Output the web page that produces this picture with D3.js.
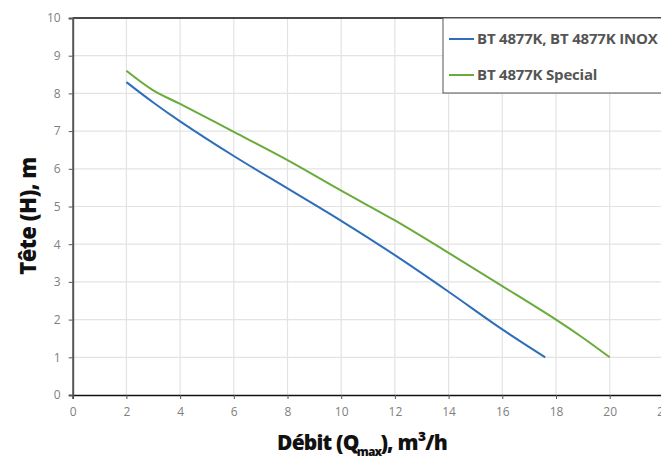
<!DOCTYPE html>
<html><head><meta charset="utf-8">
<script src="https://cdn.jsdelivr.net/npm/d3@7"></script>
<style>body{margin:0;background:#fff}svg{display:block}</style>
</head><body>
<svg id="c" width="661" height="464"></svg>
<script>
const xTicks = [0,2,4,6,8,10,12,14,16,18,20,22];
const yTicks = [0,1,2,3,4,5,6,7,8,9,10];
const seriesNames = ["BT 4877K, BT 4877K INOX", "BT 4877K Special"];
const seriesColors = ["#2f6eba", "#6aab3c"];
const blueQ = [2, 3, 4, 6, 8, 10, 12, 14, 16, 17.6];
const blueH = [8.3, 7.76, 7.26, 6.34, 5.48, 4.62, 3.71, 2.74, 1.74, 1.0];
const greenQ = [2, 3, 4, 6, 8, 10, 12, 14, 16, 18, 19, 20];
const greenH = [8.6, 8.08, 7.72, 6.98, 6.23, 5.42, 4.63, 3.77, 2.89, 2.0, 1.52, 1.0];

const svg = d3.select("#c");
const x = d3.scaleLinear().domain([0,22]).range([72.7, 663.4]);
const y = d3.scaleLinear().domain([0,10]).range([395, 18]);
const font = "'Open Sans', sans-serif";

// grid
svg.append("g").selectAll("line").data(xTicks.slice(1)).join("line")
  .attr("x1", d=>x(d)).attr("x2", d=>x(d)).attr("y1", y(10)).attr("y2", y(0))
  .attr("stroke", "#e3e3e3").attr("stroke-width", 1.2);
svg.append("g").selectAll("line").data(yTicks.slice(1)).join("line")
  .attr("x1", x(0)).attr("x2", 661).attr("y1", d=>y(d)).attr("y2", d=>y(d))
  .attr("stroke", "#e3e3e3").attr("stroke-width", 1.2);

// top border
svg.append("line").attr("x1", x(0)).attr("x2", 661).attr("y1", y(10)).attr("y2", y(10))
  .attr("stroke", "#111").attr("stroke-width", 1.3);

// axes
const xAxis = svg.append("g").attr("transform", `translate(0,${y(0)})`)
  .call(d3.axisBottom(x).tickValues(xTicks).tickSize(4).tickPadding(8).tickFormat(d3.format("d")));
xAxis.select(".domain").attr("stroke", "#111").attr("stroke-width", 1.5);
xAxis.selectAll(".tick line").attr("stroke", "#555");
xAxis.selectAll("text").attr("fill", "#808080").style("font-family", font).style("font-size", "12px");

const yAxis = svg.append("g").attr("transform", `translate(${x(0)},0)`)
  .call(d3.axisLeft(y).tickValues(yTicks).tickSize(4).tickPadding(8).tickFormat(d3.format("d")));
yAxis.select(".domain").attr("stroke", "#555").attr("stroke-width", 2);
yAxis.selectAll(".tick line").attr("stroke", "#555");
yAxis.selectAll("text").attr("fill", "#808080").style("font-family", font).style("font-size", "12px");

// lines
const line = d3.line().x(d=>x(d[0])).y(d=>y(d[1])).curve(d3.curveCatmullRom.alpha(0.5));
const series = [d3.zip(blueQ, blueH), d3.zip(greenQ, greenH)];
svg.append("g").selectAll("path").data(series).join("path")
  .attr("d", line).attr("fill", "none")
  .attr("stroke", (d,i)=>seriesColors[i]).attr("stroke-width", 2);

// legend
const lg = svg.append("g");
lg.append("rect").attr("x", 443).attr("y", 18).attr("width", 230).attr("height", 75)
  .attr("fill", "#fff").attr("stroke", "#555").attr("stroke-width", 1);
seriesNames.forEach((n,i)=>{
  const yy = 39 + i*36;
  lg.append("line").attr("x1", 449).attr("x2", 474).attr("y1", yy).attr("y2", yy)
    .attr("stroke", seriesColors[i]).attr("stroke-width", 2);
  lg.append("text").attr("x", 477).attr("y", yy).attr("dy", "0.35em")
    .attr("fill", "#555").style("font-family", font).style("font-weight", "bold")
    .style("font-size", "15px").attr("letter-spacing", "-0.2").text(n);
});

// axis titles
svg.append("text").attr("transform", `translate(36,${216}) rotate(-90)`)
  .attr("text-anchor", "middle").attr("fill", "#111")
  .style("font-family", font).style("font-weight", "800").style("font-size", "22px")
  .attr("letter-spacing", "-0.5")
  .text("Tête (H), m");
const xt = svg.append("text").attr("x", 362).attr("y", 450).attr("text-anchor", "middle")
  .attr("fill", "#111").style("font-family", font).style("font-weight", "800").style("font-size", "21px")
  .attr("letter-spacing", "-0.8");
xt.append("tspan").text("Débit (Q");
xt.append("tspan").attr("dy", 6).attr("dx", -2).style("font-size", "12px").text("max");
xt.append("tspan").attr("dy", -6).attr("dx", -1).text("), m³/h");
</script>
</body></html>
